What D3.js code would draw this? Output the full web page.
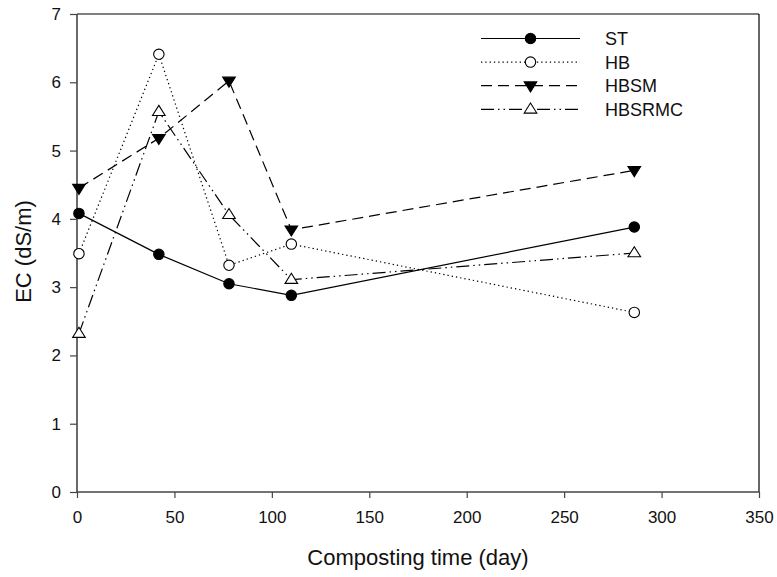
<!DOCTYPE html>
<html>
<head>
<meta charset="utf-8">
<script src="https://cdn.jsdelivr.net/npm/d3@7"></script>
<style>
  html, body { margin: 0; padding: 0; background: #fff; }
  text { font-family: "Liberation Sans", Arial, sans-serif; fill: #111; }
</style>
</head>
<body>
<svg id="chart" width="777" height="577"></svg>
<script>
// Composting days at which EC was measured
const days = [1, 42, 78, 110, 286];

// EC (dS/m) per treatment
const ST     = [4.08, 3.48, 3.05, 2.88, 3.88];
const HB     = [3.49, 6.41, 3.32, 3.63, 2.63];
const HBSM   = [4.45, 5.18, 6.02, 3.84, 4.71];
const HBSRMC = [2.32, 5.57, 4.06, 3.11, 3.50];

const xTicks = [0, 50, 100, 150, 200, 250, 300, 350];
const yTicks = [0, 1, 2, 3, 4, 5, 6, 7];

const series = [
  { name: "ST",     values: ST,     dash: null,               marker: "circle",  fill: "#000" },
  { name: "HB",     values: HB,     dash: "1.3,3",            marker: "circle",  fill: "#fff" },
  { name: "HBSM",   values: HBSM,   dash: "11,6",             marker: "triDown", fill: "#000" },
  { name: "HBSRMC", values: HBSRMC, dash: "13,4,1.5,4,1.5,4", marker: "triUp",   fill: "#fff" }
];

const svg = d3.select("#chart");
const plotL = 77, plotR = 759, plotT = 14, plotB = 492;

const x = d3.scaleLinear().domain([0, 350]).range([plotL, plotR]);
const y = d3.scaleLinear().domain([0, 7]).range([plotB, plotT]);

// Frame: top and right borders
svg.append("line").attr("x1", plotL).attr("x2", plotR).attr("y1", plotT).attr("y2", plotT)
  .attr("stroke", "#000").attr("stroke-width", 1.2);
svg.append("line").attr("x1", plotR).attr("x2", plotR).attr("y1", plotT).attr("y2", plotB)
  .attr("stroke", "#000").attr("stroke-width", 1.2);

// Axes
const xAxis = svg.append("g").attr("transform", `translate(0,${plotB})`)
  .call(d3.axisBottom(x).tickValues(xTicks).tickSize(6).tickPadding(13).tickFormat(d3.format("d")));
const yAxis = svg.append("g").attr("transform", `translate(${plotL},0)`)
  .call(d3.axisLeft(y).tickValues(yTicks).tickSize(7).tickPadding(9).tickFormat(d3.format("d")));

[xAxis, yAxis].forEach(g => {
  g.select(".domain").attr("stroke", "#444").attr("stroke-width", 1.6);
  g.selectAll(".tick line").attr("stroke", "#444").attr("stroke-width", 1.2);
  g.selectAll(".tick text").attr("font-size", 17).attr("fill", "#111")
    .attr("font-family", "Liberation Sans, Arial, sans-serif");
});
// plain axis lines without end stubs
xAxis.select(".domain").attr("d", `M${plotL},0H${plotR}`);
yAxis.select(".domain").attr("d", `M0,${plotB}V${plotT}`);

// Axis titles
svg.append("text").attr("x", 418).attr("y", 565)
  .attr("text-anchor", "middle").attr("font-size", 22).text("Composting time (day)");
svg.append("text").attr("transform", `translate(31,251.5) rotate(-90)`)
  .attr("text-anchor", "middle").attr("font-size", 22).text("EC (dS/m)");

// Marker drawing
function drawMarker(g, type, fill, cx, cy) {
  if (type === "circle") {
    g.append("circle").attr("cx", cx).attr("cy", cy).attr("r", 5.2)
      .attr("fill", fill).attr("stroke", "#000").attr("stroke-width", 1.1);
  } else {
    const s = 6.3;
    const pts = type === "triUp"
      ? [[cx - s, cy + s * 0.6], [cx + s, cy + s * 0.6], [cx, cy - s * 1.0]]
      : [[cx - s, cy - s * 0.6], [cx + s, cy - s * 0.6], [cx, cy + s * 1.0]];
    g.append("polygon").attr("points", pts.map(p => p.join(",")).join(" "))
      .attr("fill", fill).attr("stroke", "#000").attr("stroke-width", 1.1);
  }
}

const line = d3.line().x(d => x(d[0])).y(d => y(d[1]));

series.forEach(s => {
  const pts = days.map((d, i) => [d, s.values[i]]);
  svg.append("path").datum(pts).attr("d", line)
    .attr("fill", "none").attr("stroke", "#000").attr("stroke-width", 1.2)
    .attr("stroke-dasharray", s.dash);
  const g = svg.append("g");
  pts.forEach(p => drawMarker(g, s.marker, s.fill, x(p[0]), y(p[1])));
});

// Legend
const legend = svg.append("g");
series.forEach((s, i) => {
  const ly = 38.5 + i * 23.6;
  legend.append("line").attr("x1", 481).attr("x2", 580).attr("y1", ly).attr("y2", ly)
    .attr("stroke", "#000").attr("stroke-width", 1.2).attr("stroke-dasharray", s.dash);
  drawMarker(legend, s.marker, s.fill, 530.5, ly);
  legend.append("text").attr("x", 605).attr("y", ly + 6.5).attr("font-size", 18).text(s.name);
});
</script>
</body>
</html>
